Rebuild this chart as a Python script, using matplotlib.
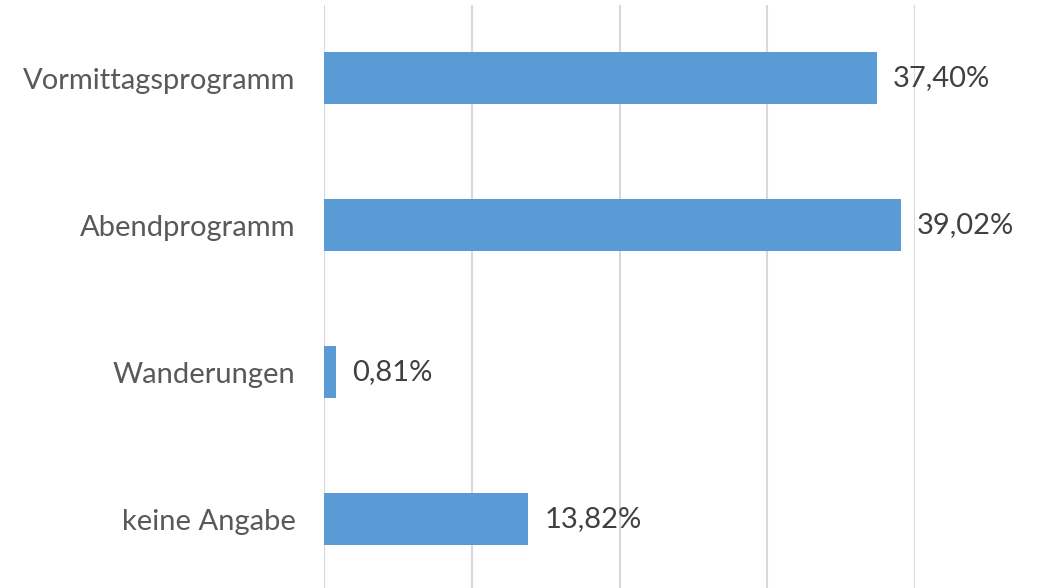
import matplotlib.pyplot as plt

categories = ['Vormittagsprogramm', 'Abendprogramm', 'Wanderungen', 'keine Angabe']
values = [37.40, 39.02, 0.81, 13.82]
labels = ['37,40%', '39,02%', '0,81%', '13,82%']

plt.rcParams['font.family'] = ['Lato', 'DejaVu Sans']

fig = plt.figure(figsize=(10.5, 5.88), dpi=100)
# axes spans from x=324 to 915 px, y=5 px to bottom
ax = fig.add_axes([324 / 1050, 0, (915 - 324) / 1050, 583 / 588])

pos = list(range(len(categories)))
ax.barh(pos, values, height=0.354, color='#5B9BD5', zorder=3)

ax.set_xlim(0, 40)
ax.set_ylim(-0.497 + 583 / 147, -0.497)
ax.set_xticks([0, 10, 20, 30, 40])
ax.xaxis.grid(True, color='#D9D9D9', linewidth=1.5, zorder=0)
ax.tick_params(axis='x', bottom=False, labelbottom=False)

ax.set_yticks(pos)
ax.set_yticklabels(categories, fontsize=21, color='#595959')
ax.tick_params(axis='y', left=False, pad=17)

for s in ax.spines.values():
    s.set_visible(False)

for p, v, lab in zip(pos, values, labels):
    ax.annotate(lab, (v, p), xytext=(16, 0), textcoords='offset pixels',
                ha='left', va='center', fontsize=21, color='#404040')

fig.savefig('out.png', dpi=100)
